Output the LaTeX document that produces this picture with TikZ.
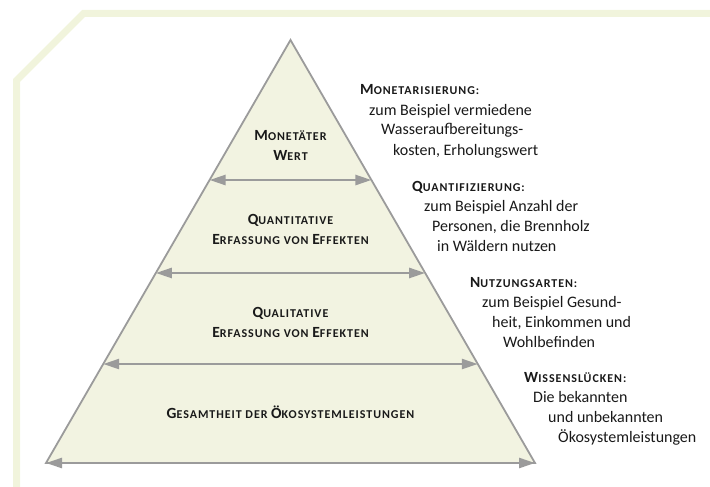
\documentclass[tikz,border=0pt]{standalone}
\usepackage{fontspec}
\setmainfont{Carlito}
\usetikzlibrary{arrows.meta,calc}
\definecolor{band}{RGB}{241,244,220}
\definecolor{pyr}{RGB}{242,243,225}
\definecolor{edgec}{RGB}{155,155,155}
\definecolor{txt}{RGB}{25,25,25}
\newcommand\fsc[2]{{\bfseries\addfontfeatures{LetterSpace=8}\fontsize{15.5}{20}\selectfont #1{\fontsize{12}{20}\selectfont #2}}}
\begin{document}
\begin{tikzpicture}[x=1pt,y=-1pt,
  lvl/.style={anchor=base, text=txt, inner sep=0},
  side/.style={font=\fontsize{16}{20}\selectfont, anchor=base west, inner sep=0, text=txt},
  sidehead/.style={anchor=base west, inner sep=0, text=txt},
  dbl/.style={draw=edgec, line width=2.5pt, {Triangle[length=16pt,width=10pt]}-{Triangle[length=16pt,width=10pt]}}]
\useasboundingbox (0,0) rectangle (710,487);
% background band
\draw[band, line width=7pt, line join=miter] (16.5,490) -- (16.5,80.45) -- (83.45,13.5) -- (715,13.5);
% pyramid
\coordinate (A) at (290.5,40);
\coordinate (BL) at (46,463);
\coordinate (BR) at (535,463);
\draw[edgec, fill=pyr, line width=1.8pt, line join=miter] (A) -- (BL) -- (BR) -- cycle;
% arrows
\coordinate (l1) at ($(A)!0.3310!(BL)$);
\coordinate (r1) at ($(A)!0.3310!(BR)$);
\coordinate (l2) at ($(A)!0.5508!(BL)$);
\coordinate (r2) at ($(A)!0.5508!(BR)$);
\coordinate (l3) at ($(A)!0.7660!(BL)$);
\coordinate (r3) at ($(A)!0.7660!(BR)$);
\draw[dbl] (l1) -- (r1);
\draw[dbl] (l2) -- (r2);
\draw[dbl] (l3) -- (r3);
\draw[dbl] (BL) -- (BR);
% pyramid labels
\node[lvl] (m1) at (290.5,140) {\fsc{M}{ONETÄTER}};
\node[lvl] (m2) at (290.5,160) {\fsc{W}{ERT}};
\node[lvl] (q1) at (290.5,224) {\fsc{Q}{UANTITATIVE}};
\node[lvl] (q2) at (290.5,244) {\fsc{E}{RFASSUNG VON }\fsc{E}{FFEKTEN}};
\node[lvl] (k1) at (290.5,317) {\fsc{Q}{UALITATIVE}};
\node[lvl] (k2) at (290.5,337) {\fsc{E}{RFASSUNG VON }\fsc{E}{FFEKTEN}};
\node[lvl] (g1) at (290.5,418) {\fsc{G}{ESAMTHEIT DER }\fsc{Ö}{KOSYSTEMLEISTUNGEN}};
% side texts
\node[sidehead] (s1h) at (360,95) {\fsc{M}{ONETARISIERUNG:}};
\node[side] (s1a) at (369,115) {zum Beispiel vermiedene};
\node[side] (s1b) at (381,135) {Wasseraufbereitungs-};
\node[side] (s1c) at (393,155) {kosten, Erholungswert};
\node[sidehead] (s2h) at (412,191) {\fsc{Q}{UANTIFIZIERUNG:}};
\node[side] (s2a) at (424,211) {zum Beispiel Anzahl der};
\node[side] (s2b) at (432,231) {Personen, die Brennholz};
\node[side] (s2c) at (437,251) {in Wäldern nutzen};
\node[sidehead] (s3h) at (470,287) {\fsc{N}{UTZUNGSARTEN:}};
\node[side] (s3a) at (482,307) {zum Beispiel Gesund-};
\node[side] (s3b) at (492,327) {heit, Einkommen und};
\node[side] (s3c) at (503,347) {Wohlbefinden};
\node[sidehead] (s4h) at (524,382) {\fsc{W}{ISSENSLÜCKEN:}};
\node[side] (s4a) at (533,402) {Die bekannten};
\node[side] (s4b) at (548,422) {und unbekannten};
\node[side] (s4c) at (558,442) {Ökosystemleistungen};
\end{tikzpicture}
\end{document}
